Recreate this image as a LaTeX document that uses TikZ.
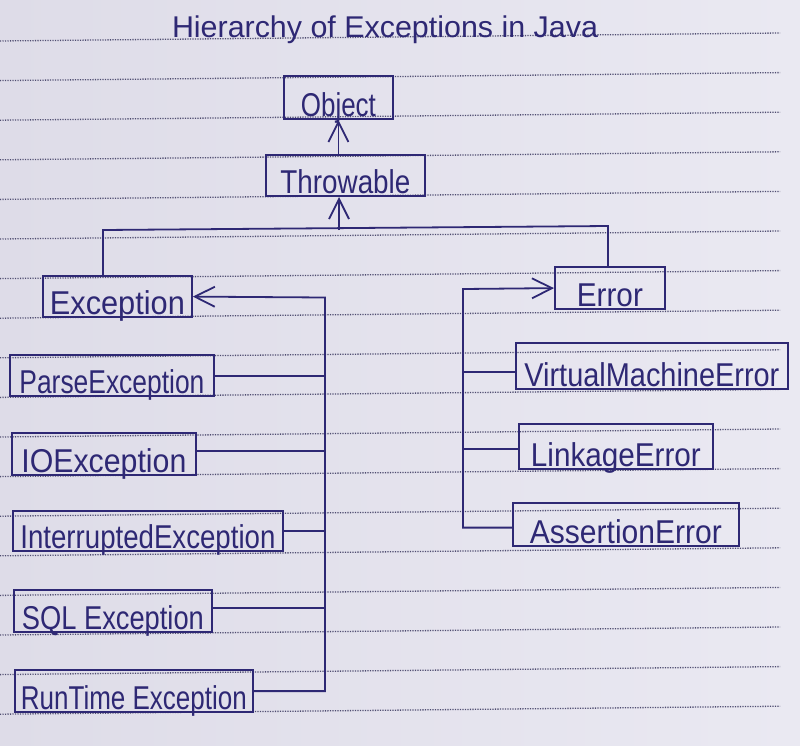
\documentclass[tikz,border=0pt]{standalone}
\usepackage{fontspec}
\setmainfont{Liberation Sans}
\usepackage{graphicx}
\usetikzlibrary{arrows.meta}

\definecolor{ink}{RGB}{46,40,116}
\definecolor{rulecol}{RGB}{78,76,112}
\definecolor{paperL}{RGB}{222,220,232}
\definecolor{paperR}{RGB}{234,233,242}

% stretch or squeeze a label horizontally to a given width (in pt)
\newlength\lblw
\newcommand\fitto[2]{\settowidth{\lblw}{#2}\pgfmathsetmacro\lblsx{#1/\lblw}\scalebox{\lblsx}[1]{#2}}

\begin{document}
\begin{tikzpicture}[x=1pt,y=-1pt,
  box/.style={draw=ink, line width=1.8pt, inner sep=0pt, anchor=south west,
    text depth=3pt, text=ink, font=\fontsize{33}{38}\selectfont},
  wire/.style={draw=ink, line width=1.8pt},
  arr/.style={wire, -{Straight Barb[length=20pt,width=20pt,line width=1.8pt]}},
  ruling/.style={draw=rulecol, line width=1.3pt, dash pattern=on 1.2pt off 1.3pt},
  heading/.style={anchor=base, text=ink, inner sep=0pt, font=\fontsize{30}{36}\selectfont}]

% paper
\shade[left color=paperL, right color=paperR] (0,0) rectangle (800,745);
\useasboundingbox (0,0) rectangle (800,745);

% ruled lines of the notebook page (slightly tilted)
\foreach \k in {0,...,17}
  \draw[ruling] (0,{41+39.6*\k}) -- (780,{33+39.6*\k});

% title
\node[heading] (ttl) at (385,37) {\fitto{426}{Hierarchy of Exceptions in Java}};

% top of the hierarchy
\node[box, minimum width=109pt, text height=40pt] (obj) at (283,120) {\fitto{75}{Object}};
\node[box, minimum width=159pt, text height=38pt] (thr) at (265,197) {\fitto{130}{Throwable}};

% the two main branches
\node[box, minimum width=149pt, text height=38pt] (exc) at (42,318) {\fitto{135}{Exception}};
\node[box, minimum width=110pt, text height=39pt] (err) at (554,310) {\fitto{66}{Error}};

% checked exceptions and RuntimeException
\node[box, minimum width=204pt, text height=38pt] (parse) at (9,397) {\fitto{185}{ParseException}};
\node[box, minimum width=184pt, text height=39pt] (io) at (11,476) {\fitto{165}{IOException}};
\node[box, minimum width=270pt, text height=37pt] (intr) at (12,552) {\fitto{255}{InterruptedException}};
\node[box, minimum width=198pt, text height=39pt] (sql) at (13,633) {\fitto{182}{SQL Exception}};
\node[box, minimum width=238pt, text height=39pt] (rt) at (14,713) {\fitto{226}{RunTime Exception}};

% errors
\node[box, minimum width=272pt, text height=43pt] (vm) at (515,390) {\fitto{255}{VirtualMachineError}};
\node[box, minimum width=194pt, text height=42pt] (linkage) at (518,470) {\fitto{170}{LinkageError}};
\node[box, minimum width=226pt, text height=40pt] (asrt) at (512,547) {\fitto{192}{AssertionError}};

% Throwable -> Object
\draw[arr] (thr.north -| obj.south) -- (obj.south);

% fork below Throwable
\coordinate (split) at (339,230);
\coordinate (lcorner) at (103,230);
\coordinate (rcorner) at (608,226);
\draw[wire] (exc.north -| lcorner) -- (lcorner) -- (rcorner) -- (err.north -| rcorner);
\draw[arr] (split) -- (split |- thr.south);

% subclasses of Exception
\coordinate (ebus) at (325,297.5);
\draw[arr] (rt.east) -- (rt.east -| ebus) -- (ebus) -- (exc.east);
\draw[wire] (parse.east) -- (parse.east -| ebus);
\draw[wire] ([yshift=3pt]io.east) -- ([yshift=3pt]io.east -| ebus);
\draw[wire] (intr.east) -- (intr.east -| ebus);
\draw[wire] ([yshift=3pt]sql.east) -- ([yshift=3pt]sql.east -| ebus);

% subclasses of Error
\coordinate (rbus) at (463,289);
\draw[arr] ([yshift=-3pt]asrt.west) -- ([yshift=-3pt]asrt.west -| rbus) -- (rbus) -- (err.west);
\draw[wire] ([yshift=-6pt]vm.west) -- ([yshift=-6pt]vm.west -| rbus);
\draw[wire] ([yshift=-2pt]linkage.west) -- ([yshift=-2pt]linkage.west -| rbus);

\end{tikzpicture}
\end{document}
